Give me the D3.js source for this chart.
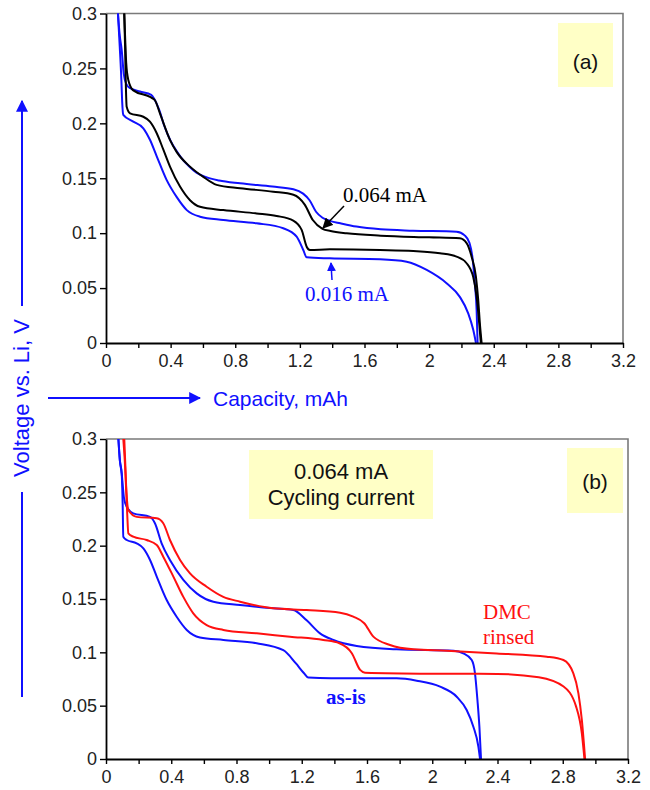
<!DOCTYPE html>
<html><head><meta charset="utf-8">
<script src="https://cdn.jsdelivr.net/npm/d3@7"></script>
<style>body{margin:0;background:#fff}svg{display:block}</style>
</head><body>
<svg id="c" width="650" height="790"></svg>
<script>
// ---------- DATA ----------
const xTicks = [0, 0.4, 0.8, 1.2, 1.6, 2, 2.4, 2.8, 3.2];
const xMinorTicks = [0.2, 0.6, 1.0, 1.4, 1.8, 2.2, 2.6, 3.0];
const yTicks = [0, 0.05, 0.1, 0.15, 0.2, 0.25, 0.3];

// Panel (a): 0.016 mA (blue) and 0.064 mA (black)
const aBlueHighCap = [0.074,0.085,0.097,0.11,0.125,0.15,0.21,0.28,0.30,0.33,0.36,0.40,0.44,0.48,0.52,0.56,0.62,0.70,0.83,1.03,1.16,1.22,1.26,1.30,1.34,1.39,1.45,1.55,1.70,1.90,2.17,2.22,2.25,2.27,2.283,2.294,2.30];
const aBlueHighV   = [0.300,0.28,0.267,0.245,0.236,0.232,0.229,0.226,0.222,0.212,0.198,0.184,0.174,0.166,0.160,0.155,0.151,0.148,0.1454,0.1424,0.140,0.136,0.130,0.1195,0.114,0.111,0.109,0.106,0.1035,0.1023,0.1014,0.098,0.091,0.0756,0.054,0.030,0.0];
const aBlackHighCap = [0.113,0.118,0.125,0.138,0.169,0.272,0.303,0.334,0.396,0.437,0.52,0.60,0.685,0.83,1.035,1.16,1.23,1.28,1.34,1.39,1.49,1.70,2.0,2.19,2.232,2.263,2.29,2.304,2.314,2.325];
const aBlackHighV   = [0.3,0.28,0.255,0.2395,0.230,0.224,0.221,0.209,0.185,0.174,0.1606,0.1515,0.144,0.1409,0.1378,0.135,0.126,0.112,0.104,0.102,0.0999,0.0977,0.0962,0.0953,0.091,0.0786,0.060,0.039,0.018,0.0];
const aBlackLowCap = [0.113,0.118,0.122,0.128,0.149,0.231,0.272,0.314,0.355,0.396,0.458,0.52,0.582,0.726,0.932,1.056,1.159,1.211,1.242,1.262,1.386,1.696,1.902,2.067,2.17,2.232,2.273,2.294,2.31,2.32];
const aBlackLowV   = [0.3,0.27,0.24,0.215,0.209,0.206,0.2015,0.191,0.176,0.1606,0.1424,0.130,0.124,0.121,0.118,0.1157,0.1115,0.103,0.0877,0.0847,0.0853,0.0847,0.0838,0.0817,0.0786,0.0726,0.060,0.042,0.018,0.0];
const aBlueLowCap = [0.074,0.085,0.095,0.100,0.107,0.169,0.231,0.272,0.314,0.375,0.437,0.50,0.582,0.726,0.932,1.097,1.18,1.221,1.242,1.386,1.696,1.861,1.985,2.108,2.19,2.242,2.273,2.29];
const aBlueLowV   = [0.3,0.27,0.24,0.22,0.2077,0.2015,0.1955,0.185,0.170,0.1485,0.133,0.121,0.115,0.112,0.109,0.1045,0.0968,0.0847,0.078,0.0771,0.0762,0.074,0.0665,0.0544,0.042,0.027,0.012,0.0];

// Panel (b): as-is (blue) and DMC rinsed (red), 0.064 mA
const bBlueHighCap = [0.076,0.085,0.096,0.11,0.127,0.167,0.27,0.30,0.341,0.392,0.474,0.556,0.658,0.822,1.026,1.148,1.23,1.312,1.394,1.537,1.782,2.13,2.19,2.242,2.262,2.277,2.289,2.299];
const bBlueHighV   = [0.3,0.28,0.268,0.245,0.2365,0.2303,0.227,0.221,0.2022,0.1866,0.168,0.1553,0.1475,0.1444,0.1413,0.1397,0.130,0.1178,0.1116,0.106,0.1028,0.1015,0.099,0.0928,0.0803,0.0553,0.0303,0.0];
const bBlueLowCap = [0.076,0.085,0.096,0.102,0.106,0.127,0.188,0.229,0.27,0.311,0.372,0.433,0.495,0.576,0.72,0.924,1.087,1.163,1.214,1.24,1.38,1.782,1.905,2.048,2.15,2.211,2.252,2.283,2.293];
const bBlueLowV   = [0.3,0.28,0.268,0.24,0.2084,0.2053,0.2022,0.1975,0.1866,0.171,0.149,0.1334,0.121,0.114,0.1116,0.1085,0.102,0.0898,0.0804,0.0763,0.0757,0.0756,0.0734,0.0678,0.0584,0.0459,0.0303,0.0115,0.0];
const bRedHighCap = [0.106,0.115,0.125,0.137,0.188,0.311,0.351,0.392,0.454,0.515,0.617,0.719,0.822,1.026,1.23,1.435,1.516,1.583,1.639,1.741,1.884,2.089,2.395,2.702,2.804,2.865,2.896,2.917,2.937];
const bRedHighV   = [0.3,0.28,0.25,0.2334,0.227,0.2256,0.221,0.2053,0.1866,0.174,0.1615,0.152,0.1475,0.1413,0.1397,0.1372,0.1334,0.1273,0.1147,0.1069,0.1028,0.1015,0.099,0.0959,0.0928,0.0803,0.0616,0.0366,0.0];
const bRedLowCap = [0.112,0.12,0.13,0.137,0.167,0.249,0.311,0.351,0.413,0.474,0.535,0.617,0.719,0.924,1.128,1.332,1.431,1.507,1.558,1.588,1.987,2.398,2.653,2.805,2.882,2.917,2.933];
const bRedLowV   = [0.3,0.27,0.23,0.2116,0.2084,0.2053,0.2006,0.1897,0.171,0.152,0.1366,0.1256,0.121,0.1178,0.1147,0.1116,0.1085,0.0992,0.0835,0.0809,0.080,0.0798,0.0766,0.0679,0.0491,0.024,0.0];

// ---------- DRAW ----------
const svg = d3.select("#c");
const BLUE = "#1010ff", RED = "#ff1010", YEL = "#ffffc6";
const sans = "Liberation Sans, Arial, sans-serif";
const serif = "Liberation Serif, Times New Roman, serif";
const zip = (xs, ys) => xs.map((x, i) => [x, ys[i]]);
const fmt = v => String(+v.toFixed(2));

svg.append("defs").append("marker").attr("id","ahK").attr("viewBox","0 0 10 10")
  .attr("refX",9).attr("refY",5).attr("markerWidth",7).attr("markerHeight",7)
  .attr("orient","auto").append("path").attr("d","M0,0L10,5L0,10z").attr("fill","#000");
svg.select("defs").append("marker").attr("id","ahB").attr("viewBox","0 0 10 10")
  .attr("refX",9).attr("refY",5).attr("markerWidth",6).attr("markerHeight",6)
  .attr("orient","auto").append("path").attr("d","M0,0L10,5L0,10z").attr("fill",BLUE);

function panel(left, right, top, bottom, series) {
  const x = d3.scaleLinear().domain([0, 3.2]).range([left, right]);
  const y = d3.scaleLinear().domain([0, 0.3]).range([bottom, top]);
  const g = svg.append("g");
  g.append("path").attr("d", `M${left},${top}H${right}V${bottom}`)
    .attr("fill","none").attr("stroke","#7a7a7a").attr("stroke-width",1.6);
  const line = d3.line().x(d => x(d[0])).y(d => y(d[1])).curve(d3.curveMonotoneX);
  series.forEach(s => {
    g.append("path").datum(zip(s.cap, s.v)).attr("d", line)
      .attr("fill","none").attr("stroke", s.color).attr("stroke-width", 2)
      .attr("stroke-linejoin","round");
  });
  g.append("g").attr("transform",`translate(0,${bottom})`)
    .call(d3.axisBottom(x).tickValues(xTicks).tickFormat(fmt).tickSize(5).tickPadding(6).tickSizeOuter(0));
  g.append("g").attr("transform",`translate(0,${bottom})`)
    .call(d3.axisBottom(x).tickValues(xMinorTicks).tickFormat("").tickSize(5).tickSizeOuter(0))
    .select(".domain").remove();
  g.append("g").attr("transform",`translate(${left},0)`)
    .call(d3.axisLeft(y).tickValues(yTicks).tickFormat(fmt).tickSize(6).tickPadding(3).tickSizeOuter(0));
  g.selectAll(".domain").attr("stroke","#000").attr("stroke-width",1.8);
  g.selectAll(".tick line").attr("stroke","#000").attr("stroke-width",1.4);
  g.selectAll(".tick text").attr("font-family",sans).attr("font-size",18).attr("fill","#222");
  return {x, y, g};
}

panel(106, 623, 13.5, 343, [
  {cap: aBlueHighCap, v: aBlueHighV, color: BLUE},
  {cap: aBlueLowCap, v: aBlueLowV, color: BLUE},
  {cap: aBlackHighCap, v: aBlackHighV, color: "#000"},
  {cap: aBlackLowCap, v: aBlackLowV, color: "#000"}
]);
panel(106, 628, 439, 759, [
  {cap: bBlueHighCap, v: bBlueHighV, color: BLUE},
  {cap: bBlueLowCap, v: bBlueLowV, color: BLUE},
  {cap: bRedHighCap, v: bRedHighV, color: RED},
  {cap: bRedLowCap, v: bRedLowV, color: RED}
]);

function box(x0, y0, x1, y1, lines) {
  svg.append("rect").attr("x",x0).attr("y",y0).attr("width",x1-x0).attr("height",y1-y0).attr("fill",YEL);
  lines.forEach(l => svg.append("text").attr("x",(x0+x1)/2).attr("y",l.y).attr("text-anchor","middle")
    .attr("font-family",sans).attr("font-size",l.size).attr("fill","#111").text(l.t));
}
box(558, 23, 613, 87, [{t:"(a)", y:69, size:21}]);
box(567, 448, 623, 513, [{t:"(b)", y:489, size:21}]);
box(249, 450, 433, 519, [{t:"0.064 mA", y:479, size:22},{t:"Cycling current", y:505, size:22}]);

svg.append("text").attr("x",343).attr("y",202).attr("font-family",serif).attr("font-size",21).attr("fill","#000").text("0.064 mA");
svg.append("line").attr("x1",344).attr("y1",206).attr("x2",323).attr("y2",228)
  .attr("stroke","#000").attr("stroke-width",1.5).attr("marker-end","url(#ahK)");
svg.append("text").attr("x",305).attr("y",301).attr("font-family",serif).attr("font-size",21).attr("fill",BLUE).text("0.016 mA");
svg.append("line").attr("x1",332).attr("y1",280).attr("x2",331).attr("y2",263)
  .attr("stroke",BLUE).attr("stroke-width",1.5).attr("marker-end","url(#ahB)");

svg.append("text").attr("x",483).attr("y",619).attr("font-family",serif).attr("font-size",21).attr("fill",RED).text("DMC");
svg.append("text").attr("x",483).attr("y",644).attr("font-family",serif).attr("font-size",21).attr("fill",RED).text("rinsed");
svg.append("text").attr("x",326).attr("y",704).attr("font-family",serif).attr("font-size",21).attr("font-weight","bold").attr("fill",BLUE).text("as-is");

svg.append("line").attr("x1",48).attr("y1",398).attr("x2",200).attr("y2",398)
  .attr("stroke",BLUE).attr("stroke-width",2).attr("marker-end","url(#ahB)");
svg.append("text").attr("x",213).attr("y",406).attr("font-family",sans).attr("font-size",21).attr("fill",BLUE).text("Capacity, mAh");

svg.append("line").attr("x1",22).attr("y1",306).attr("x2",22).attr("y2",101)
  .attr("stroke",BLUE).attr("stroke-width",2).attr("marker-end","url(#ahB)");
svg.append("line").attr("x1",22).attr("y1",492).attr("x2",22).attr("y2",697)
  .attr("stroke",BLUE).attr("stroke-width",2);
svg.append("text").attr("transform","translate(29,398) rotate(-90)").attr("text-anchor","middle")
  .attr("font-family",sans).attr("font-size",22).attr("fill",BLUE).text("Voltage vs. Li, V");
</script>
</body></html>
